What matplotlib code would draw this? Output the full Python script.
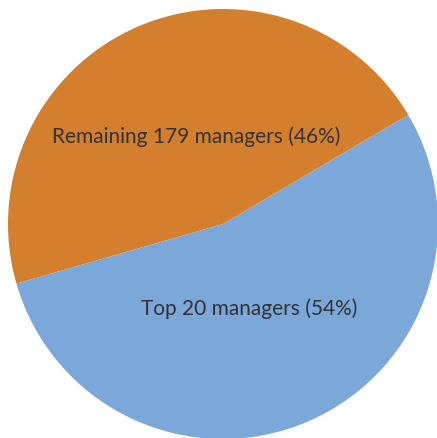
import matplotlib.pyplot as plt

labels = ['Remaining 179 managers (46%)', 'Top 20 managers (54%)']
shares = [46, 54]
colors = ['#D37F2D', '#7BA7D9']
# label anchor points in pie units (radius 1)
label_xy = [(-0.125, 0.41), (0.12, -0.39)]

fig = plt.figure(figsize=(4.37, 4.39), dpi=100)
ax = fig.add_axes([8 / 437, -1 / 439, 430 / 437, 430 / 439])

ax.pie(shares, colors=colors, startangle=30.5, counterclock=True,
       wedgeprops=dict(linewidth=0))

for lab, (x, y) in zip(labels, label_xy):
    ax.text(x, y, lab, ha='center', va='center', fontsize=15,
            family='Lato', color='#333333')

ax.set_xlim(-1, 1)
ax.set_ylim(-1, 1)
ax.set_aspect('equal')
ax.axis('off')

fig.savefig('out.png', dpi=100)
